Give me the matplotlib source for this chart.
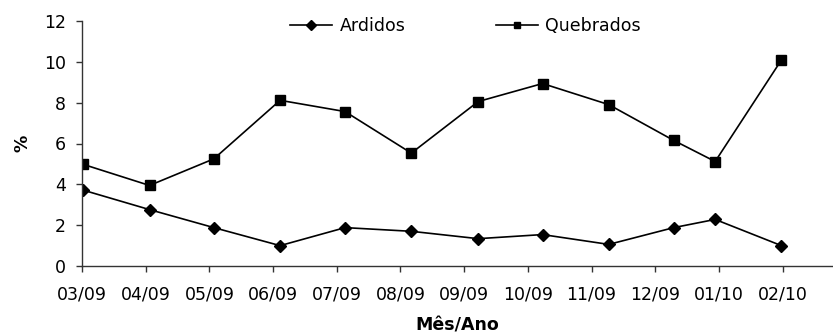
import matplotlib
matplotlib.use("Agg")
import matplotlib.pyplot as plt

# ---- data ----
month_labels = ["03/09", "04/09", "05/09", "06/09", "07/09", "08/09",
                "09/09", "10/09", "11/09", "12/09", "01/10", "02/10"]
# sampling time, in months after the 03/09 tick
sample_month = [0.02, 1.06, 2.07, 3.11, 4.13, 5.17, 6.22, 7.23, 8.27, 9.29, 9.94, 10.98]
ardidos = [3.72, 2.77, 1.89, 1.01, 1.89, 1.71, 1.35, 1.55, 1.07, 1.89, 2.29, 1.01]
quebrados = [4.98, 3.95, 5.25, 8.11, 7.56, 5.53, 8.05, 8.93, 7.90, 6.15, 5.12, 10.08]
y_ticks = [0, 2, 4, 6, 8, 10, 12]

plt.rcParams['font.family'] = ['DejaVu Sans']
FS = 12.5

W, H = 833, 334
fig = plt.figure(figsize=(W / 100, H / 100), dpi=100)
ax = fig.add_axes([82 / W, (H - 266.3) / H, (833 - 82) / W, (266.3 - 20.7) / H])

ax.plot(sample_month, ardidos, color='black', lw=1.2, marker='D', markersize=6.5,
        label='Ardidos')
ax.plot(sample_month, quebrados, color='black', lw=1.2, marker='s', markersize=6.5,
        label='Quebrados')

ax.set_xlim(0, 11.79)
ax.set_ylim(0, 12)
ax.set_xticks(range(len(month_labels)))
ax.set_xticklabels(month_labels, fontsize=FS)
ax.set_yticks(y_ticks)
ax.set_yticklabels([str(v) for v in y_ticks], fontsize=FS)

for s in ['top', 'right']:
    ax.spines[s].set_visible(False)
for s in ['left', 'bottom']:
    ax.spines[s].set_color('#333333')
    ax.spines[s].set_linewidth(1.0)
ax.tick_params(axis='both', direction='out', length=4.5, width=1.0, color='#333333')
ax.tick_params(axis='x', pad=9)
ax.tick_params(axis='y', pad=7)

ax.set_ylabel('%', fontsize=FS, fontweight='bold', labelpad=9)
ax.set_xlabel('Mês/Ano', fontsize=FS, fontweight='bold', labelpad=10)

fig.legend(loc='center left', bbox_to_anchor=(281.7 / W, 1 - 25.7 / H), ncol=2,
           frameon=False, fontsize=FS, borderpad=0, handlelength=2.4,
           handletextpad=0.45, columnspacing=5.2, markerscale=0.75)

fig.savefig('out.png', dpi=100)
